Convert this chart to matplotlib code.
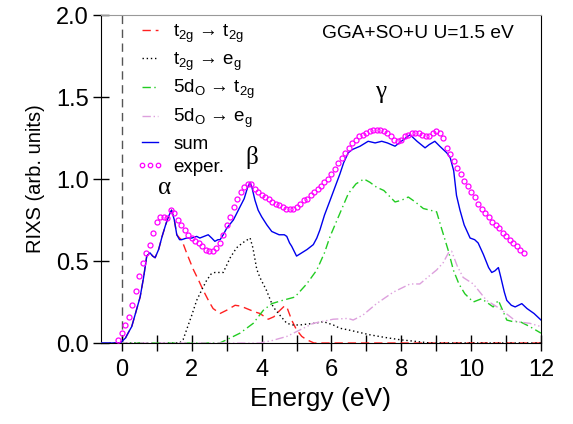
import matplotlib
matplotlib.use("Agg")
import matplotlib.pyplot as plt
import numpy as np

# ---------------- data ----------------
exper_E = [-0.1, 0.0, 0.1, 0.2, 0.3, 0.4, 0.5, 0.6, 0.7, 0.8, 0.9, 1.0, 1.1, 1.2, 1.3, 1.4,
           1.5, 1.6, 1.7, 1.8, 1.9, 2.0, 2.1, 2.2, 2.3, 2.4, 2.5, 2.6, 2.7, 2.8, 2.9, 3.0,
           3.1, 3.2, 3.3, 3.4, 3.5, 3.6, 3.7, 3.8, 3.9, 4.0, 4.1, 4.2, 4.3, 4.4, 4.5, 4.6,
           4.7, 4.8, 4.9, 5.0, 5.1, 5.2, 5.3, 5.4, 5.5, 5.6, 5.7, 5.8, 5.9, 6.0, 6.1, 6.2,
           6.3, 6.4, 6.5, 6.6, 6.7, 6.8, 6.9, 7.0, 7.1, 7.2, 7.3, 7.4, 7.5, 7.6, 7.7, 7.8,
           7.9, 8.0, 8.1, 8.2, 8.3, 8.4, 8.5, 8.6, 8.7, 8.8, 8.9, 9.0, 9.1, 9.2, 9.3, 9.4,
           9.5, 9.6, 9.7, 9.8, 9.9, 10.0, 10.1, 10.2, 10.3, 10.4, 10.5, 10.6, 10.7, 10.8,
           10.9, 11.0, 11.1, 11.2, 11.3, 11.4, 11.5]
exper_I = [0.02, 0.06, 0.11, 0.16, 0.23, 0.32, 0.41, 0.49, 0.55, 0.60, 0.67, 0.74, 0.77, 0.77,
           0.76, 0.81, 0.79, 0.75, 0.72, 0.69, 0.66, 0.64, 0.62, 0.61, 0.59, 0.57, 0.56, 0.56,
           0.58, 0.61, 0.66, 0.72, 0.77, 0.83, 0.88, 0.92, 0.95, 0.97, 0.97, 0.94, 0.92, 0.90,
           0.89, 0.88, 0.86, 0.85, 0.84, 0.83, 0.82, 0.82, 0.82, 0.83, 0.85, 0.87, 0.88, 0.90,
           0.92, 0.94, 0.96, 0.98, 1.00, 1.03, 1.06, 1.10, 1.13, 1.16, 1.19, 1.22, 1.24, 1.26,
           1.27, 1.28, 1.29, 1.30, 1.30, 1.30, 1.29, 1.28, 1.26, 1.24, 1.23, 1.24, 1.26, 1.27,
           1.28, 1.28, 1.28, 1.27, 1.26, 1.26, 1.28, 1.29, 1.28, 1.25, 1.19, 1.15, 1.11, 1.07,
           1.03, 0.99, 0.96, 0.92, 0.89, 0.85, 0.82, 0.79, 0.77, 0.74, 0.72, 0.70, 0.67, 0.65,
           0.63, 0.61, 0.59, 0.57, 0.55]

sum_E = [-0.6, -0.05, 0.1, 0.2, 0.28, 0.4, 0.52, 0.62, 0.71, 0.80, 0.88, 0.95, 1.05, 1.15,
         1.25, 1.33, 1.42, 1.5, 1.57, 1.65, 1.71, 1.85, 2.0, 2.14, 2.23, 2.35, 2.47, 2.57,
         2.66, 2.75, 2.81, 2.9, 3.0, 3.19, 3.38, 3.5, 3.6, 3.67, 3.72, 3.81, 3.9, 4.0, 4.15,
         4.29, 4.5, 4.65, 4.72, 4.8, 4.86, 5.0, 5.15, 5.3, 5.48, 5.58, 5.67, 5.8, 5.96, 6.1,
         6.24, 6.35, 6.48, 6.6, 6.82, 7.05, 7.25, 7.44, 7.6, 7.82, 8.0, 8.25, 8.45, 8.68, 8.8,
         8.96, 9.1, 9.3, 9.4, 9.5, 9.58, 9.68, 9.8, 9.97, 10.1, 10.2, 10.35, 10.5, 10.59,
         10.68, 10.78, 10.85, 10.95, 11.02, 11.15, 11.26, 11.45, 11.6, 11.8, 12.0]
sum_I = [0.0, 0.0, 0.03, 0.07, 0.10, 0.19, 0.28, 0.40, 0.53, 0.55, 0.53, 0.52, 0.57, 0.65,
         0.72, 0.77, 0.81, 0.75, 0.66, 0.63, 0.63, 0.64, 0.64, 0.65, 0.64, 0.65, 0.66, 0.64,
         0.62, 0.63, 0.63, 0.66, 0.70, 0.75, 0.83, 0.88, 0.95, 0.98, 0.95, 0.87, 0.81, 0.77,
         0.72, 0.68, 0.66, 0.66, 0.65, 0.61, 0.59, 0.53, 0.55, 0.57, 0.60, 0.64, 0.69, 0.78,
         0.87, 0.95, 1.03, 1.10, 1.16, 1.18, 1.20, 1.23, 1.22, 1.23, 1.22, 1.20, 1.23, 1.27,
         1.23, 1.19, 1.21, 1.23, 1.20, 1.16, 1.13, 1.05, 0.90, 0.81, 0.72, 0.64, 0.63, 0.61,
         0.54, 0.46, 0.43, 0.44, 0.46, 0.40, 0.31, 0.26, 0.23, 0.22, 0.24, 0.21, 0.18, 0.14]

t2t_E = [-0.6, -0.05, 0.1, 0.2, 0.28, 0.4, 0.52, 0.62, 0.71, 0.80, 0.88, 0.95, 1.05, 1.15,
         1.25, 1.33, 1.42, 1.5, 1.57, 1.65, 1.71, 1.85, 2.04, 2.2, 2.33, 2.5, 2.61, 2.81, 3.0,
         3.24, 3.4, 3.57, 3.8, 3.95, 4.19, 4.35, 4.48, 4.65, 4.72, 4.86, 5.0, 5.15, 5.29, 5.5,
         12.0]
t2t_I = [0.0, 0.0, 0.03, 0.07, 0.10, 0.19, 0.28, 0.40, 0.53, 0.55, 0.53, 0.52, 0.57, 0.65,
         0.72, 0.77, 0.81, 0.75, 0.66, 0.64, 0.63, 0.55, 0.45, 0.38, 0.32, 0.25, 0.21, 0.18,
         0.20, 0.23, 0.225, 0.21, 0.19, 0.18, 0.145, 0.16, 0.19, 0.225, 0.22, 0.14, 0.08, 0.04,
         0.02, 0.0, 0.0]

t2e_E = [-0.6, 1.65, 1.75, 1.85, 2.0, 2.14, 2.3, 2.42, 2.55, 2.66, 2.9, 3.1, 3.28, 3.45, 3.67,
         3.75, 3.86, 3.95, 4.14, 4.33, 4.52, 4.72, 4.9, 5.1, 5.29, 5.5, 5.77, 6.05, 6.24, 6.48,
         7.1, 7.5, 7.96, 8.4, 8.82, 12.0]
t2e_I = [0.0, 0.0, 0.02, 0.08, 0.17, 0.26, 0.33, 0.38, 0.42, 0.43, 0.43, 0.52, 0.58, 0.61,
         0.64, 0.58, 0.45, 0.40, 0.32, 0.22, 0.17, 0.12, 0.11, 0.11, 0.115, 0.12, 0.13, 0.11,
         0.09, 0.08, 0.05, 0.035, 0.02, 0.01, 0.0, 0.0]

dt_E = [-0.6, 2.8, 3.0, 3.38, 3.76, 4.05, 4.29, 4.6, 4.95, 5.29, 5.58, 5.8, 5.96, 6.24, 6.48,
        6.7, 6.93, 7.1, 7.29, 7.5, 7.82, 8.0, 8.2, 8.4, 8.63, 9.01, 9.15, 9.35, 9.49, 9.65,
        9.82, 10.06, 10.3, 10.5, 10.63, 10.78, 10.9, 11.02, 11.2, 11.4, 11.68, 12.0]
dt_I = [0.0, 0.0, 0.02, 0.06, 0.12, 0.20, 0.24, 0.26, 0.28, 0.36, 0.445, 0.55, 0.65, 0.79,
        0.91, 0.97, 1.0, 0.98, 0.95, 0.93, 0.86, 0.87, 0.89, 0.86, 0.82, 0.80, 0.70, 0.56,
        0.445, 0.36, 0.30, 0.25, 0.27, 0.24, 0.22, 0.26, 0.20, 0.14, 0.13, 0.13, 0.10, 0.06]

de_E = [-0.6, 3.95, 4.3, 4.72, 5.1, 5.48, 6.05, 6.48, 6.62, 6.9, 7.29, 7.77, 8.25, 8.53, 8.75,
        9.01, 9.2, 9.35, 9.44, 9.6, 9.77, 10.06, 10.44, 10.82, 11.3, 11.68, 12.0]
de_I = [0.0, 0.0, 0.015, 0.04, 0.08, 0.12, 0.145, 0.15, 0.14, 0.17, 0.24, 0.31, 0.36, 0.36,
        0.40, 0.445, 0.49, 0.55, 0.56, 0.47, 0.40, 0.36, 0.26, 0.21, 0.13, 0.12, 0.10]

labels = [r'$\mathregular{t_{2g}}$ → $\mathregular{t_{2g}}$',
          r'$\mathregular{t_{2g}}$ → $\mathregular{e_{g}}$',
          r'$\mathregular{5d_{O}}$ → $\mathregular{t_{2g}}$',
          r'$\mathregular{5d_{O}}$ → $\mathregular{e_{g}}$',
          'sum', 'exper.']

# ---------------- plot ----------------
plt.rcParams['font.family'] = ['Liberation Sans', 'DejaVu Sans']
plt.rcParams['mathtext.fontset'] = 'custom'
plt.rcParams['mathtext.rm'] = 'Liberation Sans'
plt.rcParams['mathtext.it'] = 'Liberation Sans'

fig = plt.figure(figsize=(5.73, 4.24), dpi=100)
ax = fig.add_axes([101/573, 1-343/424, 440/573, 328/424])

ax.axvline(0, color='#555555', lw=1.0, ls=(0, (6, 4)), zorder=1)

ax.plot(t2t_E, t2t_I, color='#ff2020', lw=1.0, ls=(0, (6, 3.5)), label=labels[0], zorder=3)
ax.plot(t2e_E, t2e_I, color='black', lw=1.0, ls=(0, (1, 2)), label=labels[1], zorder=3)
ax.plot(dt_E, dt_I, color='#22cc22', lw=1.0, ls=(0, (6, 2.5, 1, 2.5)), label=labels[2], zorder=3)
ax.plot(de_E, de_I, color='#dda0dd', lw=1.0, ls=(0, (6, 2, 1, 2, 1, 2)), label=labels[3], zorder=3)
ax.plot(sum_E, sum_I, color='#0000ee', lw=1.0, label=labels[4], zorder=4)
ax.plot(exper_E, exper_I, ls='none', marker='o', ms=3.6, mfc='none', mec='#ff00ff',
        mew=0.9, label=labels[5], zorder=5)

ax.set_xlim(-0.6, 12)
ax.set_ylim(0, 2.0)
ax.set_xticks(np.arange(0, 13, 2))
ax.set_xticks(np.arange(1, 12, 2), minor=True)
ax.set_yticks(np.arange(0, 2.01, 0.5))
ax.tick_params(axis='both', which='both', direction='inout', length=11, width=1,
               labelsize=17, top=False, right=False)
ax.tick_params(axis='x', pad=6)
ax.set_xlabel('Energy (eV)', fontsize=19, labelpad=4)
ax.set_ylabel('RIXS (arb. units)', fontsize=14.5, labelpad=8)

ax.spines['top'].set_color('#999999')
for s in ['left', 'right', 'bottom']:
    ax.spines[s].set_color('black')

ax.text(0.72, 0.945, 'GGA+SO+U U=1.5 eV', transform=ax.transAxes, fontsize=13.8,
        ha='center', va='center')
ax.text(1.23, 0.945, 'α', fontsize=18, family=['Liberation Serif', 'DejaVu Serif'],
        ha='center', va='center')
ax.text(3.72, 1.13, 'β', fontsize=18, family=['Liberation Serif', 'DejaVu Serif'],
        ha='center', va='center')
ax.text(7.42, 1.53, 'γ', fontsize=18, family=['Liberation Serif', 'DejaVu Serif'],
        ha='center', va='center')

leg = ax.legend(loc='upper left', bbox_to_anchor=(0.064, 1.0), frameon=False, fontsize=13.5,
                handlelength=1.45, handletextpad=0.5, labelspacing=0.3, borderaxespad=0.0,
                numpoints=3, markerscale=0.9)

fig.savefig('out.png', dpi=100)
